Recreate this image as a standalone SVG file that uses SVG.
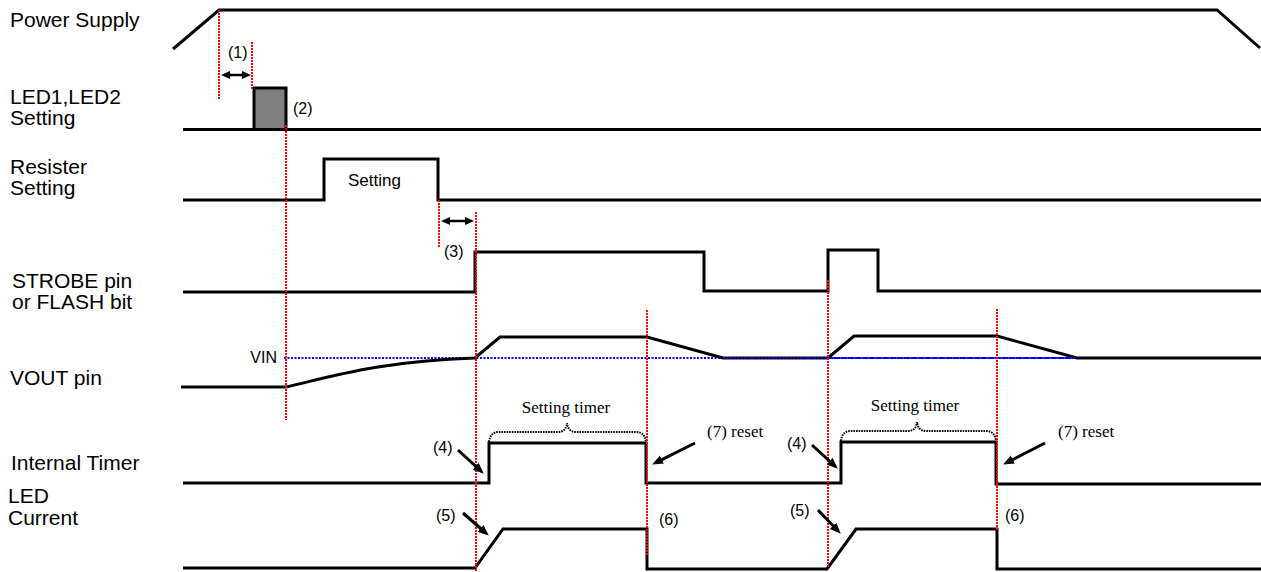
<svg xmlns="http://www.w3.org/2000/svg" width="1261" height="572" viewBox="0 0 1261 572">
<style>
.lbl{font-family:"Liberation Sans",Arial,sans-serif;font-size:21px;fill:#000}
.sm{font-family:"Liberation Sans",Arial,sans-serif;font-size:16px;fill:#000}
.box{font-family:"Liberation Sans",Arial,sans-serif;font-size:17px;fill:#000}
.ser{font-family:"Liberation Serif","Times New Roman",serif;font-size:17px;fill:#000}
.sig{fill:none;stroke:#000;stroke-width:3;stroke-linejoin:miter}
.red{fill:none;stroke:#ff0000;stroke-width:2;stroke-dasharray:2 1}
.blue{fill:none;stroke:#0000ff;stroke-width:2;stroke-dasharray:2 1.5}
.brace{fill:none;stroke:#000;stroke-width:2;stroke-dasharray:1.6 1}
.arr{fill:none;stroke:#000;stroke-width:3}
.darr{fill:none;stroke:#000;stroke-width:2.5}
</style>
<defs>
<marker id="ah" markerUnits="userSpaceOnUse" markerWidth="11" markerHeight="10" viewBox="0 0 11 10" refX="4" refY="5" orient="auto"><path d="M0,0.5 L11,5 L0,9.5 z" fill="#000"/></marker>
<marker id="dh" markerUnits="userSpaceOnUse" markerWidth="9" markerHeight="9" viewBox="0 0 9 9" refX="3" refY="4.5" orient="auto-start-reverse"><path d="M0,0.5 L9,4.5 L0,8.5 z" fill="#000"/></marker>
</defs>

<g id="labels">
<text class="lbl" x="10" y="27">Power Supply</text>
<text class="lbl" x="10" y="104">LED1,LED2</text>
<text class="lbl" x="10" y="125">Setting</text>
<text class="lbl" x="10" y="174">Resister</text>
<text class="lbl" x="10" y="195">Setting</text>
<text class="lbl" x="12" y="288">STROBE pin</text>
<text class="lbl" x="12" y="309">or FLASH bit</text>
<text class="lbl" x="10" y="385">VOUT pin</text>
<text class="lbl" x="11" y="470">Internal Timer</text>
<text class="lbl" x="8" y="503">LED</text>
<text class="lbl" x="8" y="525">Current</text>
</g>

<g id="guides">
<line class="blue" x1="284" y1="358" x2="1077" y2="358"/>
</g>

<g id="power-supply">
<polyline class="sig" points="173,49 219,10 1217,10 1260,48"/>
</g>

<g id="led-setting">
<line class="sig" x1="183" y1="129.5" x2="1261" y2="129.5"/>
<rect x="254" y="88" width="32" height="41.5" fill="#808080" stroke="#000" stroke-width="3"/>
<text class="sm" x="293" y="114">(2)</text>
</g>

<g id="resister-setting">
<polyline class="sig" points="183,200 324,200 324,159 438,159 438,200 1261,200"/>
<text class="box" x="348" y="186">Setting</text>
</g>

<g id="strobe">
<polyline class="sig" points="183,292 475,292 475,252 704,252 704,291 828,291 828,250 878,250 878,291 1261,291"/>
</g>

<g id="vout">
<path class="sig" d="M181,387 L286,387 C330,377 380,361 475,358 L500,337 L647,337 L723,358 L828,358 L854,336 L997,336 L1077,358 L1261,358"/>
<line class="blue" x1="723" y1="358" x2="1077" y2="358"/>
<text class="sm" x="277" y="363" text-anchor="end">VIN</text>
</g>

<g id="internal-timer">
<polyline class="sig" points="183,483 489,483 489,443 646,443 646,483 841,483 841,442 996,442 996,484 1261,484"/>
<path class="brace" d="M489,442 Q490,432 499,432 L558,432 Q566,432 567,423 Q568,432 576,432 L636,432 Q645,432 646,442"/>
<path class="brace" d="M841,441 Q842,431 851,431 L908,431 Q916,431 917,422 Q918,431 926,431 L986,431 Q995,431 996,441"/>
<text class="ser" x="566" y="413" text-anchor="middle">Setting timer</text>
<text class="ser" x="915" y="411" text-anchor="middle">Setting timer</text>
</g>

<g id="led-current">
<polyline class="sig" points="183,568 475,568 503,529 647,529 647,569 827,569 856,529 997,529 997,569 1261,569"/>
</g>

<g id="markers">
<line class="red" x1="219" y1="10" x2="219" y2="100"/>
<line class="red" x1="252" y1="42" x2="252" y2="90"/>
<line class="red" x1="286" y1="125" x2="286" y2="420"/>
<line class="red" x1="439" y1="200" x2="439" y2="248"/>
<line class="red" x1="476" y1="212" x2="476" y2="571"/>
<line class="red" x1="647" y1="310" x2="647" y2="556"/>
<line class="red" x1="828" y1="280" x2="828" y2="568"/>
<line class="red" x1="997" y1="309" x2="997" y2="531"/>
</g>

<g id="connectors">
<line class="darr" x1="227" y1="75" x2="245" y2="75" marker-start="url(#dh)" marker-end="url(#dh)"/>
<line class="darr" x1="447" y1="221" x2="468" y2="221" marker-start="url(#dh)" marker-end="url(#dh)"/>
<line class="arr" x1="458" y1="450" x2="478.6" y2="468.9" marker-end="url(#ah)"/>
<line class="arr" x1="812" y1="445" x2="832.6" y2="463.9" marker-end="url(#ah)"/>
<line class="arr" x1="463" y1="513" x2="483.5" y2="531" marker-end="url(#ah)"/>
<line class="arr" x1="818" y1="510" x2="835.9" y2="528.7" marker-end="url(#ah)"/>
<line class="arr" x1="695" y1="443" x2="658.4" y2="461.3" marker-end="url(#ah)"/>
<line class="arr" x1="1045" y1="443" x2="1009.3" y2="461.3" marker-end="url(#ah)"/>
</g>

<g id="annotations">
<text class="sm" x="228" y="58">(1)</text>
<text class="sm" x="444" y="257">(3)</text>
<text class="sm" x="433" y="453">(4)</text>
<text class="sm" x="787" y="449">(4)</text>
<text class="sm" x="436" y="521">(5)</text>
<text class="sm" x="790" y="516">(5)</text>
<text class="sm" x="659" y="525">(6)</text>
<text class="sm" x="1005" y="521">(6)</text>
<text class="ser" x="707" y="437">(7) reset</text>
<text class="ser" x="1058" y="437">(7) reset</text>
</g>
</svg>
